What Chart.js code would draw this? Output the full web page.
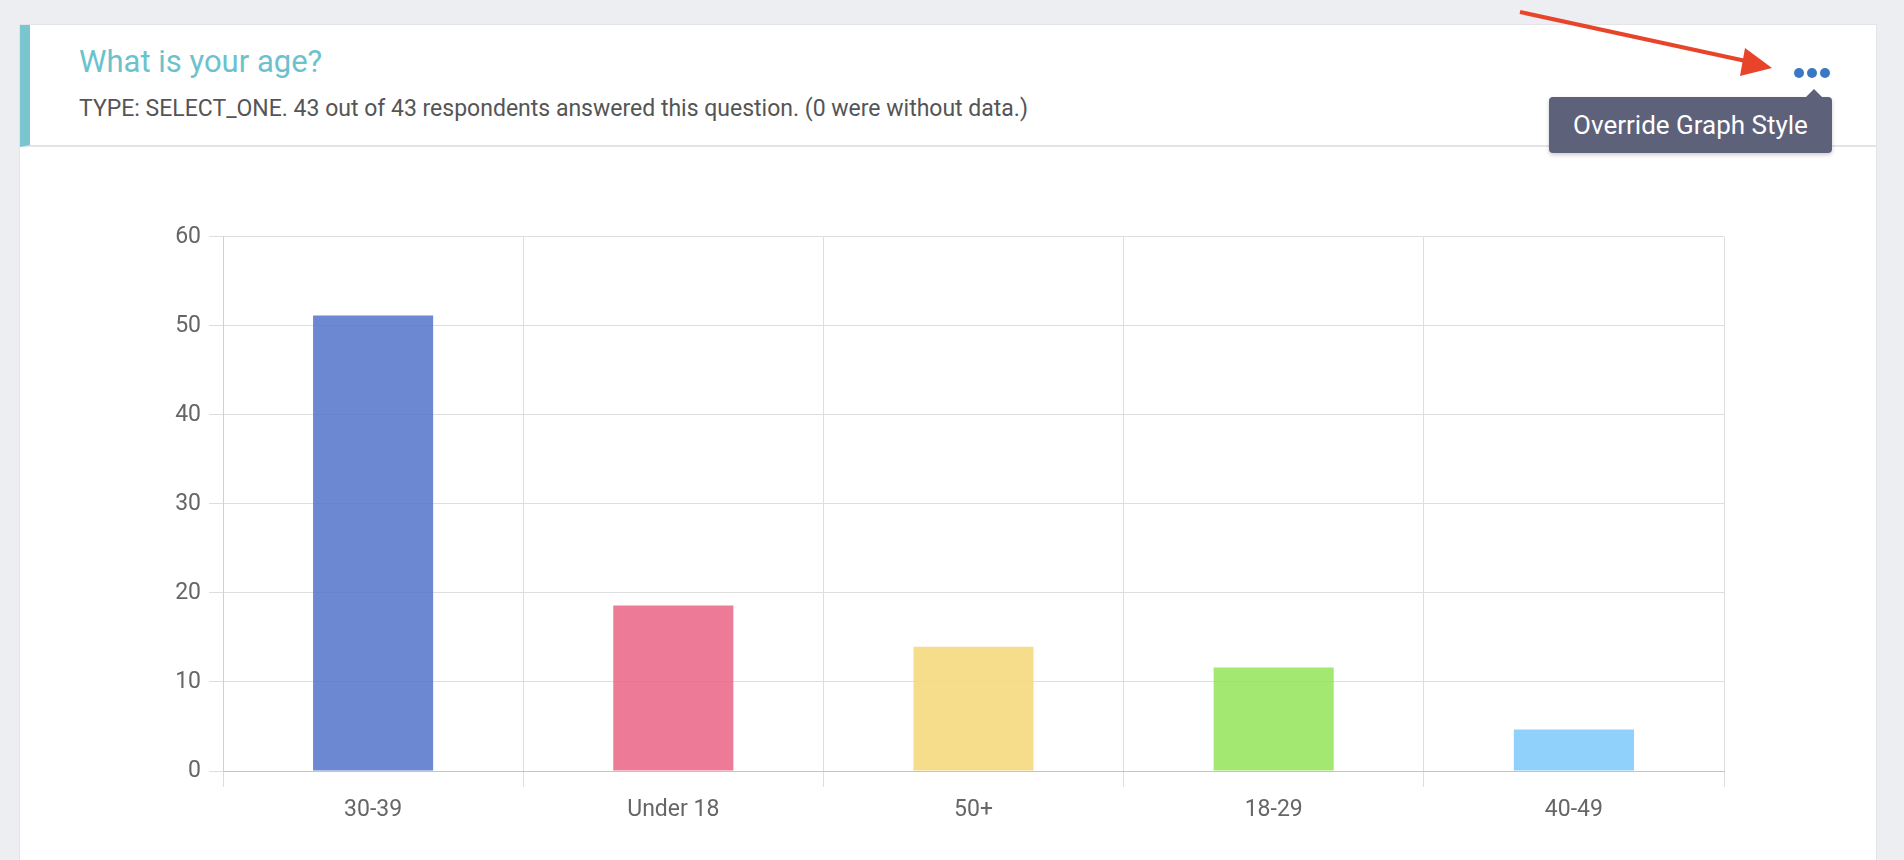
<!DOCTYPE html>
<html><head><meta charset="utf-8">
<script src="https://cdn.jsdelivr.net/npm/chart.js@4/dist/chart.umd.min.js"></script>
<style>
body{margin:0;width:1904px;height:860px;background:#eceef2;font-family:Roboto,sans-serif;overflow:hidden;position:relative}
#card{position:absolute;left:19px;top:24px;width:1856px;height:860px;background:#fff;border:1px solid #e2e4e8}
#hdr{position:absolute;left:0;top:0;width:1856px;height:122px;border-bottom:2px solid #e2e4e8;border-left:10px solid #7ac6cf;box-sizing:border-box}
#title{position:absolute;left:49px;top:18px;font-size:31px;color:#6cc2cc}
#sub{position:absolute;left:49px;top:70px;font-size:23px;color:#555}
#dots{position:absolute;left:1794px;top:63px}
#dots span{display:inline-block;width:10px;height:10px;border-radius:50%;background:#3a78c3;margin-right:3px}
#tip{position:absolute;left:1549px;top:97px;width:283px;height:56px;background:#5d627a;border-radius:4px;color:#fff;font-size:26px;line-height:56px;text-align:center;box-shadow:0 2px 4px rgba(0,0,0,.2)}
#tip:before{content:"";position:absolute;left:257px;top:-8px;border-left:8px solid transparent;border-right:8px solid transparent;border-bottom:8px solid #5d627a}
#wrap{position:absolute;left:140px;top:215px;width:1600px;height:610px}
</style></head><body>
<div id="card"><div id="hdr"><div id="title">What is your age?</div><div id="sub">TYPE: SELECT_ONE. 43 out of 43 respondents answered this question. (0 were without data.)</div></div></div>
<div id="dots"><span></span><span></span><span></span></div>
<div id="tip">Override Graph Style</div>
<svg style="position:absolute;left:0;top:0" width="1904" height="860"><line x1="1520" y1="12" x2="1755" y2="63" stroke="#e8442a" stroke-width="4"/><polygon points="1772,68 1745,48 1740,76" fill="#e8442a"/></svg>
<div id="wrap"><canvas id="c"></canvas></div>
<script>
const categories=["30-39","Under 18","50+","18-29","40-49"];
const values=[51.16,18.60,13.95,11.63,4.65];
const colors=["rgba(88,119,204,0.88)","rgba(234,105,138,0.88)","rgba(244,217,127,0.9)","rgba(150,229,92,0.88)","rgba(127,203,250,0.88)"];
Chart.defaults.font.family="Roboto";
new Chart(document.getElementById('c'),{type:'bar',
data:{labels:categories,datasets:[{data:values,backgroundColor:colors,barPercentage:0.4,categoryPercentage:1}]},
options:{responsive:true,maintainAspectRatio:false,animation:false,
layout:{padding:{top:7,right:16,left:0,bottom:0}},
plugins:{legend:{display:false},tooltip:{enabled:false}},
scales:{
x:{afterFit:s=>{s.height=54},grid:{offset:true,color:'#dedede',tickLength:16},border:{color:'#c4c4c8'},ticks:{padding:9,color:'#666',font:{size:23}}},
y:{min:0,max:60,afterFit:s=>{s.width=83},grid:{color:'#dedede',tickLength:14},border:{color:'#d0d0d0'},ticks:{stepSize:10,padding:8,color:'#666',font:{size:23}}}
}}});
</script></body></html>
